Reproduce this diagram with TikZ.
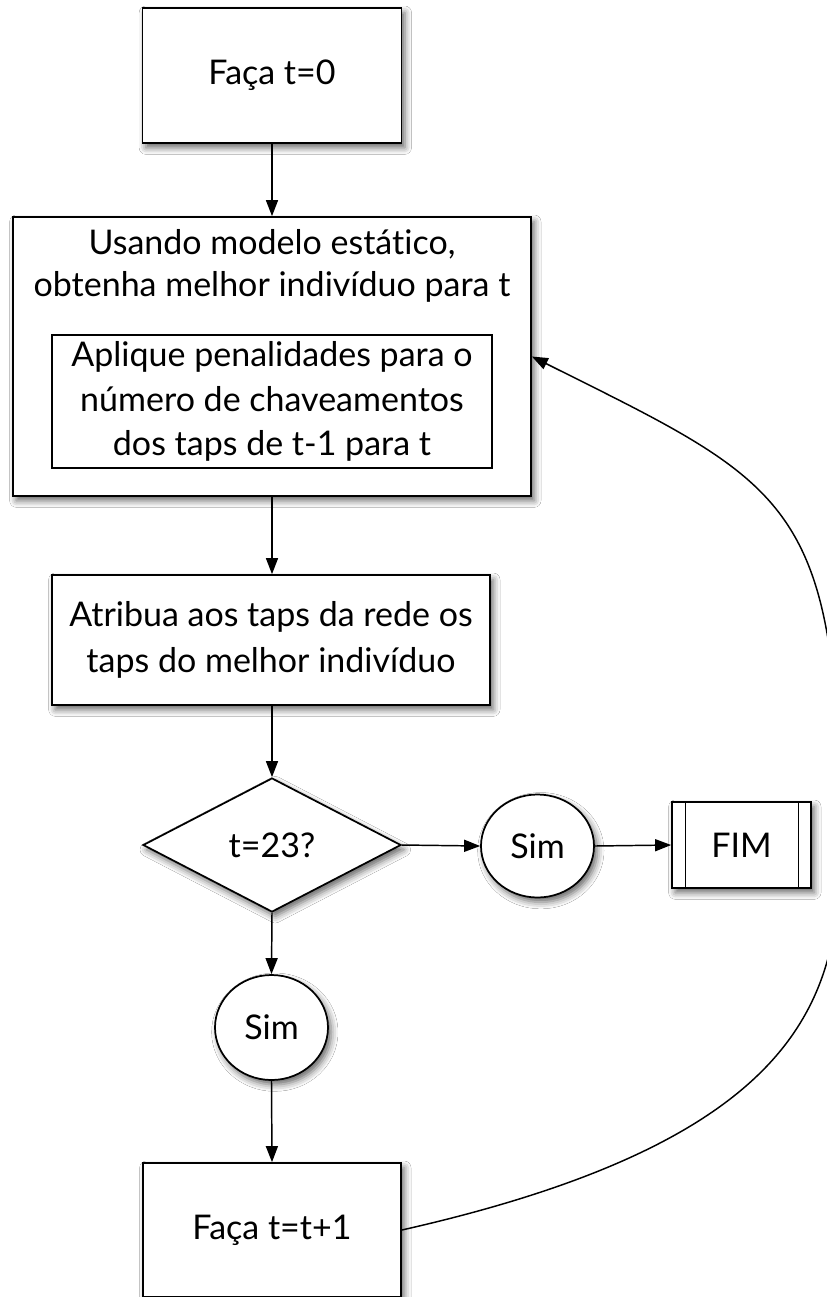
\documentclass[tikz,border=0pt]{standalone}
\usepackage{fontspec}
\setmainfont{Lato}[Ligatures=NoCommon]
\usetikzlibrary{shapes.geometric,arrows.meta,shadows.blur}
\begin{document}
\begin{tikzpicture}[x=0.75pt,y=-0.75pt,
  shad/.style={blur shadow={shadow xshift=2.5pt,shadow yshift=-3.5pt,shadow blur radius=5pt,shadow opacity=60}},
  stepbox/.style={draw,line width=1.3pt,fill=white,shad,inner sep=0pt,align=center,font=\fontsize{25.5}{32}\selectfont},
  plainbox/.style={draw,line width=1pt,fill=white,inner sep=0pt,align=center,font=\fontsize{25.5}{33.4}\selectfont},
  txt/.style={inner sep=0pt,align=center,font=\fontsize{25.5}{32}\selectfont},
  arr/.style={line width=1.1pt,-{Triangle[length=12pt,width=9pt]}}]
\useasboundingbox (0,0) rectangle (826,1297);
\fill[white] (0,0) rectangle (826,1297);

\node[stepbox,minimum width=194.25pt,minimum height=101.25pt] (b1) at (272,75.5) {Faça t=0};

\node[stepbox,minimum width=388.5pt,minimum height=209.25pt] (b2) at (272,356.5) {};
\node[txt] (b2txt) at (272,266) {Usando modelo estático,\\obtenha melhor indivíduo para t};
\node[plainbox,minimum width=330pt,minimum height=99.75pt] (inner) at (272,401.5)
  {Aplique penalidades para o\\número de chaveamentos\\dos taps de t-1 para t};

\node[stepbox,minimum width=328.5pt,minimum height=97.5pt,font=\fontsize{25.5}{34.5}\selectfont] (b3) at (271,640)
  {Atribua aos taps da rede os\\taps do melhor indivíduo};

\node[stepbox,diamond,aspect=1,minimum width=193.5pt,minimum height=100.5pt] (d) at (272,845) {t=23?};

\node[stepbox,ellipse,minimum width=84.75pt,minimum height=77.25pt] (sim1) at (537.5,846) {Sim};

\node[stepbox,minimum width=104.25pt,minimum height=64.5pt] (fim) at (741.5,845) {FIM};
\draw[line width=1pt] ([xshift=11pt]fim.north west) -- ([xshift=11pt]fim.south west);
\draw[line width=1pt] ([xshift=-10pt]fim.north east) -- ([xshift=-10pt]fim.south east);

\node[stepbox,ellipse,minimum width=84.75pt,minimum height=78.75pt] (sim2) at (271.5,1027.5) {Sim};

\node[stepbox,minimum width=193.5pt,minimum height=100.5pt] (b4) at (272,1230) {Faça t=t+1};

\coordinate (turn) at (840,850);

\draw[arr] (b1.south) -- (b2.north);
\draw[arr] (b2.south) -- (b3.north -| b2.south);
\draw[arr] (b3.south -| d.north) -- (d.north);
\draw[arr] (d.east) -- (sim1.west);
\draw[arr] (sim1.east) -- (fim.west);
\draw[arr] (d.south) -- (sim2.north);
\draw[arr] (sim2.south) -- (b4.north);
\draw[arr] (b4.east) .. controls (800,1140) and (840,1000) .. (turn)
  .. controls (840,500) and (793,487) .. (b2.east);
\end{tikzpicture}
\end{document}
